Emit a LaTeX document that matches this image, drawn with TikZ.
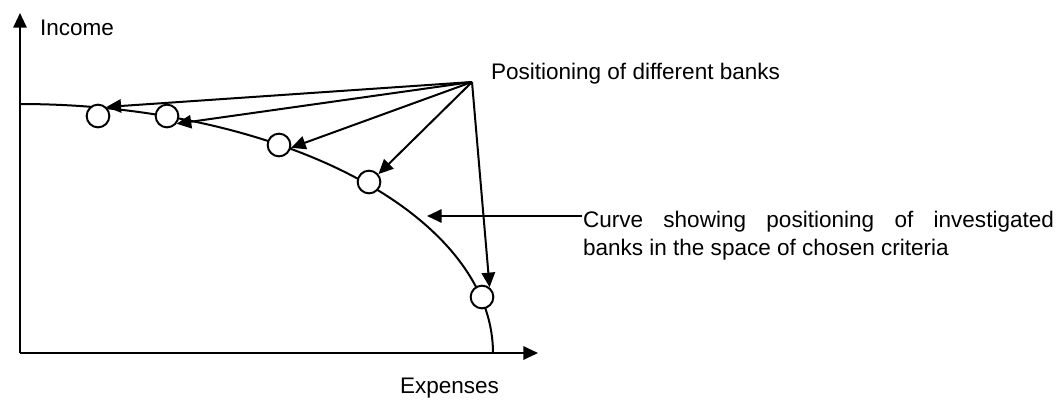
\documentclass[tikz,border=0pt]{standalone}
\usepackage{fontspec}
\setmainfont{Liberation Sans}
\usetikzlibrary{arrows.meta}

\begin{document}
\begin{tikzpicture}[
  x=0.75pt, y=-0.75pt,
  line width=1.5pt,
  lbl/.style={font=\fontsize{16.9}{21}\selectfont, inner sep=0pt},
  note/.style={lbl, text width=353.25pt, align=justify},
  bank/.style={draw, circle, fill=white, minimum size=17pt, inner sep=0pt},
  arr/.style={-{Triangle[length=11pt, width=10pt]}}]
  \useasboundingbox (0,0) rectangle (1060,400);
  % axes
  \coordinate (O) at (20,353);
  \coordinate (ytop) at (20,13);
  \coordinate (xend) at (538,353);
  \draw[arr] (O) -- (ytop);
  \draw[arr] (O) -- (xend);
  \node[lbl, anchor=base west] (income) at (39,35) {Income};
  \node[lbl, anchor=base west] (expenses) at (399,393) {Expenses};
  % curve of the banks
  \draw plot[domain=0:90, samples=80, smooth] ({20+473*cos(\x)}, {353-249*sin(\x)});
  \node[bank] (b1) at (98,116) {};
  \node[bank] (b2) at (167,116) {};
  \node[bank] (b3) at (279,145) {};
  \node[bank] (b4) at (369,182) {};
  \node[bank] (b5) at (482,297) {};
  % pointers
  \coordinate (hub) at (472,82);
  \node[lbl, anchor=base west] (pos) at (490,79) {Positioning of different banks};
  \foreach \b/\a in {b1/47, b2/-39, b3/-13, b4/40, b5/52}
    \draw[arr] (hub) -- (\b.\a);
  \node[note, anchor=base west] (note) at (582,227)
    {Curve showing positioning of investigated\linebreak banks in the space of chosen criteria};
  \coordinate (crv) at (427,216);
  \draw[arr] ([yshift=8.25pt]note.base west) -- (crv);
\end{tikzpicture}
\end{document}
